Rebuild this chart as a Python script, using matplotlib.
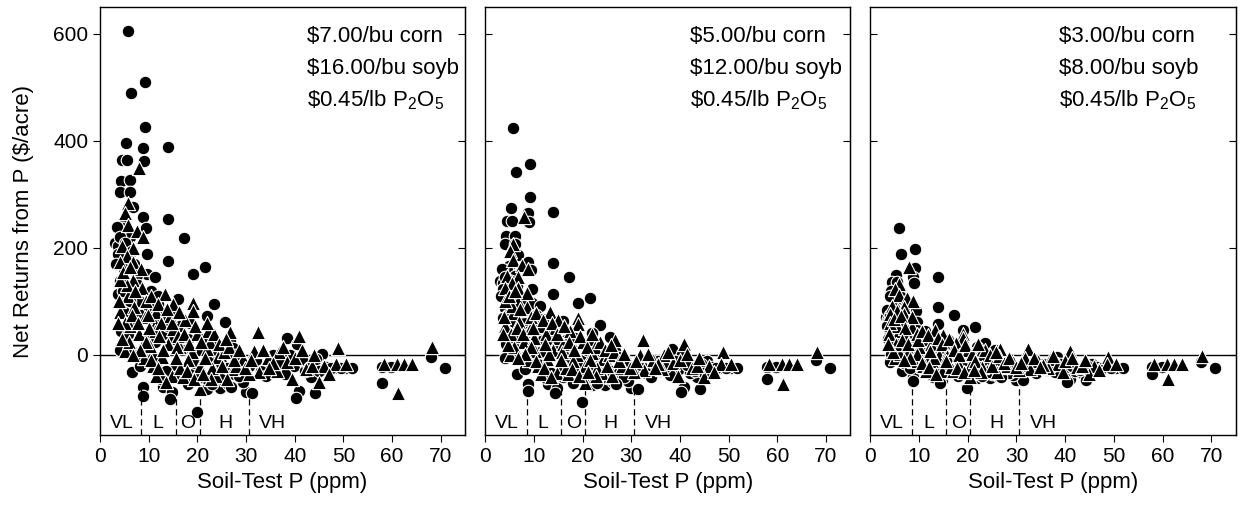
import matplotlib
matplotlib.use('Agg')
import matplotlib.pyplot as plt

plt.rcParams['font.family'] = ['Liberation Sans', 'DejaVu Sans']
plt.rcParams['mathtext.fontset'] = 'custom'
plt.rcParams['mathtext.rm'] = 'Liberation Sans'
plt.rcParams['mathtext.default'] = 'regular'

# Soil-test P (ppm) for the corn sites (circles) -- same sites in all panels
circle_x = [5.8, 9.2, 6.3, 9.2, 5.3, 8.8, 13.9, 4.5, 5.5, 9.0,
            4.3, 6.1, 4.1, 6.1, 6.8, 8.8, 13.9, 4.8, 4.5, 9.4,
            6.1, 17.2, 3.1, 3.7, 9.6, 3.7, 13.9, 21.5, 19.0, 4.1,
            9.6, 11.3, 3.7, 16.0, 23.5, 25.6, 21.9, 26.6, 27.3, 6.5,
            8.8, 8.8, 12.9, 14.7, 14.3, 19.9, 21.9, 24.6, 26.2, 30.0,
            38.3, 40.5, 45.6, 44.4, 39.9, 43.4, 40.9, 40.3, 44.2, 31.3,
            29.3, 34.8, 37.9, 48.1, 50.5, 51.8, 57.9, 57.9, 67.9, 70.8,
            59.8, 10.5, 12.0, 14.5, 8.0, 7.0, 5.0, 11.0, 13.0, 16.5,
            18.0, 20.5, 22.5, 24.0, 17.5, 15.5, 12.0, 27.5, 29.0, 25.0,
            19.0, 22.0, 33.0, 36.0, 42.0, 46.5, 5.0, 4.3, 9.8, 23.0,
            3.5, 4.0, 5.2, 6.5, 7.5, 3.3, 4.7, 6.2, 7.8, 8.5,
            10.0, 11.8, 12.8, 14.0, 15.2, 16.8, 18.5, 19.5, 21.0, 23.8,
            24.8, 26.0, 27.8, 28.5, 30.5, 32.0, 34.0, 35.5, 37.0, 39.0,
            41.5, 43.0, 45.0, 47.5, 49.5, 9.0, 10.8, 13.5, 16.0, 18.0,
            20.0, 23.0, 26.8, 12.5, 7.2, 5.8, 4.0, 6.8, 8.2, 11.2]

# Net returns ($/acre) for circles, one list per price scenario
circle_y_high = [605, 511, 490, 426, 397, 386, 388, 365, 365, 362,
                 325, 327, 305, 304, 277, 258, 255, 249, 237, 237,
                 221, 219, 210, 203, 188, 188, 175, 164, 151, 138,
                 151, 145, 113, 104, 95, 62, 73, 26, 13, -32,
                 -60, -76, -60, -69, -83, -106, -63, -62, -54, -69,
                 32, 20, 2, -7, -20, -41, -67, -80, -71, -72,
                 -50, -22, -35, -24, -24, -24, -22, -52, -4, -24,
                 -22, 120, 95, 80, 100, 170, 160, 60, 40, 55,
                 30, 10, -10, -30, -45, -20, -10, -35, -15, -45,
                 -35, -45, -30, -25, -30, -22, 80, 45, 30, 20,
                 240, 220, 210, 195, 150, 170, 120, 100, 130, 75,
                 90, 110, 70, 55, 30, 10, 60, -15, 30, 5,
                 -15, -25, 0, -40, -20, -10, -40, 0, -15, 0,
                 -10, -25, -30, -25, -24, 15, -5, -30, -40, -55,
                 -45, -55, -60, -45, 60, 40, 10, 5, -20, 25]

circle_y_mid = [424, 356, 341, 295, 274, 266, 267, 251, 251, 249,
                222, 223, 208, 207, 187, 174, 172, 167, 159, 159,
                147, 146, 139, 134, 123, 123, 114, 106, 97, 87,
                97, 92, 69, 63, 56, 33, 41, 7, -3, -35,
                -55, -67, -55, -62, -72, -88, -57, -57, -51, -62,
                11, 2, -11, -17, -26, -42, -60, -70, -63, -64,
                -48, -28, -37, -24, -24, -24, -22, -45, -10, -24,
                -22, 74, 56, 46, 60, 110, 103, 31, 17, 28,
                10, -5, -19, -34, -44, -26, -19, -37, -23, -44,
                -37, -44, -34, -30, -34, -22, 46, 20, 10, 2,
                161, 146, 139, 128, 96, 110, 74, 60, 82, 42,
                53, 67, 38, 28, 10, -5, 31, -23, 10, -8,
                -23, -30, -12, -41, -26, -19, -41, -12, -23, -12,
                -19, -30, -34, -24, -24, -1, -16, -34, -41, -52,
                -44, -52, -55, -44, 31, 17, -5, -8, -26, 6]

circle_y_low = [237, 198, 189, 162, 150, 145, 146, 136, 136, 135,
                120, 120, 111, 111, 99, 91, 90, 88, 83, 83,
                76, 75, 71, 68, 62, 62, 57, 52, 46, 41,
                46, 44, 30, 27, 23, 9, 14, -6, -12, -30,
                -42, -49, -42, -46, -52, -62, -43, -43, -40, -46,
                -4, -9, -16, -20, -25, -34, -45, -51, -47, -47,
                -38, -26, -32, -24, -24, -24, -22, -35, -14, -24,
                -22, 33, 23, 17, 25, 54, 50, 8, 0, 6,
                -4, -13, -21, -30, -36, -25, -21, -32, -23, -36,
                -32, -36, -30, -28, -30, -22, 17, 2, -4, -9,
                84, 75, 71, 65, 46, 54, 33, 25, 38, 15,
                21, 29, 12, 6, -4, -13, 8, -23, -4, -15,
                -23, -28, -17, -34, -25, -21, -34, -17, -23, -17,
                -21, -28, -30, -24, -24, -11, -19, -30, -34, -40,
                -36, -40, -42, -36, 8, 0, -13, -15, -25, -7]

# Soil-test P (ppm) for the soybean sites (triangles)
tri_x = [8.0, 5.8, 5.1, 5.8, 7.6, 8.8, 4.5, 6.8, 5.5, 4.1,
         6.8, 6.8, 8.6, 5.8, 13.3, 19.0, 19.0, 9.2, 14.3, 6.1,
         11.3, 15.0, 22.1, 26.6, 5.1, 10.2, 16.4, 7.6, 12.7, 18.8,
         21.9, 24.2, 10.8, 14.7, 17.0, 20.5, 20.5, 23.9, 27.3, 29.3,
         4.1, 32.4, 40.9, 48.9, 36.8, 34.4, 38.5, 31.7, 48.5, 50.5,
         46.0, 42.4, 36.4, 32.7, 39.5, 45.0, 58.3, 61.0, 62.4, 64.1,
         68.2, 61.2, 7.0, 9.5, 11.5, 12.5, 8.0, 10.0, 14.0, 16.0,
         18.0, 13.0, 9.0, 6.0, 22.5, 25.5, 28.0, 23.0, 16.5, 11.5,
         26.0, 30.5, 35.5, 43.5, 47.0, 20.0, 17.5, 15.0, 8.5, 5.5,
         4.0, 4.8, 6.2, 7.2, 3.8, 5.2, 6.5, 7.8, 9.8, 10.5,
         11.8, 12.2, 13.8, 14.8, 15.8, 16.2, 17.2, 18.2, 19.5, 20.8,
         21.5, 22.8, 23.5, 24.5, 25.0, 26.5, 27.5, 28.5, 29.8, 31.0,
         33.5, 34.8, 37.5, 40.0, 41.5, 44.0, 9.5, 10.5, 12.0, 13.5,
         15.5, 17.8, 19.2, 21.2, 8.2, 4.6, 3.6, 6.8, 22.0, 25.8]

tri_y_high = [349, 284, 266, 243, 231, 221, 203, 200, 185, 173,
              173, 141, 126, 110, 113, 98, 82, 71, 73, 54,
              45, 48, 45, 43, 7, 17, 15, 2, -4, 6,
              11, -4, -20, -39, -41, -20, -63, -39, -26, -7,
              80, 43, 35, 13, 6, -5, -13, 7, -17, -17,
              -20, -26, -30, -32, -45, -50, -17, -17, -17, -17,
              15, -71, 90, 100, 80, 60, 40, 50, 20, 35,
              -10, 10, -5, 25, 25, 5, -20, -25, -25, -40,
              -45, -35, -15, -20, -35, 40, 65, 95, 160, 130,
              140, 155, 165, 120, 100, 60, 75, 60, 75, 110,
              95, 35, 85, 60, 15, 80, 40, 20, 55, 25,
              -5, -45, 40, 20, -20, 15, -10, 10, -25, -10,
              10, -25, 15, -5, 10, 0, 25, -10, -25, -50,
              -5, -30, -45, -35, 10, 30, 60, 0, 60, 30]

tri_y_mid = [257, 208, 195, 177, 168, 161, 147, 145, 134, 125,
             125, 101, 90, 78, 80, 69, 57, 48, 50, 36,
             29, 31, 29, 27, 0, 8, 6, -4, -8, 0,
             3, -8, -20, -34, -36, -20, -52, -34, -24, -10,
             55, 27, 21, 5, 0, -9, -15, 0, -17, -17,
             -20, -24, -27, -29, -39, -42, -17, -17, -17, -17,
             6, -55, 62, 70, 55, 40, 25, 32, 10, 21,
             -12, 2, -9, 14, 14, -1, -20, -24, -24, -35,
             -39, -31, -16, -20, -31, 25, 44, 66, 115, 92,
             100, 111, 119, 85, 70, 40, 51, 40, 51, 78,
             66, 21, 59, 40, 6, 55, 25, 10, 36, 14,
             -9, -39, 25, 10, -20, 6, -12, 2, -24, -12,
             2, -24, 6, -9, 2, -5, 14, -12, -24, -42,
             -9, -27, -39, -31, 2, 18, 40, -5, 40, 18]

tri_y_low = [165, 132, 123, 112, 106, 100, 92, 90, 82, 76,
             76, 60, 53, 45, 46, 39, 31, 26, 26, 17,
             12, 14, 12, 12, -6, -2, -2, -9, -12, -7,
             -4, -12, -20, -30, -30, -20, -42, -30, -23, -13,
             30, 12, 8, -3, -7, -12, -16, -6, -17, -17,
             -20, -23, -25, -26, -32, -35, -17, -17, -17, -17,
             -2, -45, 35, 40, 30, 20, 10, 15, 0, 8,
             -15, -5, -12, 2, 2, -8, -20, -22, -22, -30,
             -32, -28, -18, -20, -28, 10, 22, 38, 70, 55,
             60, 68, 72, 50, 40, 20, 28, 20, 28, 45,
             38, 8, 32, 20, -2, 30, 10, 0, 18, 2,
             -12, -32, 10, 0, -20, -2, -15, -5, -22, -15,
             -5, -22, -2, -12, -5, -10, 2, -15, -22, -35,
             -12, -25, -32, -28, -5, 5, 20, -10, 20, 5]

circle_y = [circle_y_high, circle_y_mid, circle_y_low]
tri_y = [tri_y_high, tri_y_mid, tri_y_low]

price_text = [[r'\$7.00/bu corn', r'\$16.00/bu soyb', r'\$0.45/lb P$_2$O$_5$'],
              [r'\$5.00/bu corn', r'\$12.00/bu soyb', r'\$0.45/lb P$_2$O$_5$'],
              [r'\$3.00/bu corn', r'\$8.00/bu soyb', r'\$0.45/lb P$_2$O$_5$']]
text_x = [42.5, 42.0, 38.8]

class_edges = [8.5, 15.5, 20.5, 30.5]
class_names = ['VL', 'L', 'O', 'H', 'VH']
class_pos = [4.5, 11.9, 18.1, 25.8, 35.5]

fig, axes = plt.subplots(1, 3, figsize=(12.43, 5.12), dpi=100)
fig.subplots_adjust(left=0.0805, right=0.994, top=0.986, bottom=0.15, wspace=0.055)

for i, ax in enumerate(axes):
    ax.axhline(0, color='black', lw=1, zorder=1)
    ax.scatter(circle_x, circle_y[i], marker='o', s=82, c='black',
               edgecolors='white', linewidths=0.8, zorder=2)
    ax.scatter(tri_x, tri_y[i], marker='^', s=105, c='black',
               edgecolors='white', linewidths=0.8, zorder=3)

    # soil-test interpretation classes
    ax.vlines(class_edges, -150, -58, colors='black', lw=0.9,
              linestyles=(0, (5, 3)))
    for name, xp in zip(class_names, class_pos):
        ax.text(xp, -128, name, ha='center', va='center', fontsize=14)

    for j, line in enumerate(price_text[i]):
        ax.text(text_x[i], 585 - 60 * j, line, fontsize=16, va='baseline')

    ax.set_xlim(0, 75)
    ax.set_ylim(-150, 650)
    ax.set_xticks(range(0, 80, 10))
    ax.set_yticks([0, 200, 400, 600])
    ax.set_xlabel('Soil-Test P (ppm)', fontsize=16)
    ax.tick_params(axis='x', direction='out', length=5, labelsize=15)
    for sp in ax.spines.values():
        sp.set_linewidth(1)

    right = ax.secondary_yaxis('right')
    right.set_yticks([0, 200, 400, 600])
    right.tick_params(direction='in', length=5, labelright=False)
    if i == 0:
        ax.tick_params(axis='y', direction='out', length=5, labelsize=15)
        ax.set_ylabel(r'Net Returns from P (\$/acre)', fontsize=16, labelpad=14)
    else:
        ax.tick_params(axis='y', direction='in', length=5, labelleft=False)

plt.savefig('out.png', dpi=100)
